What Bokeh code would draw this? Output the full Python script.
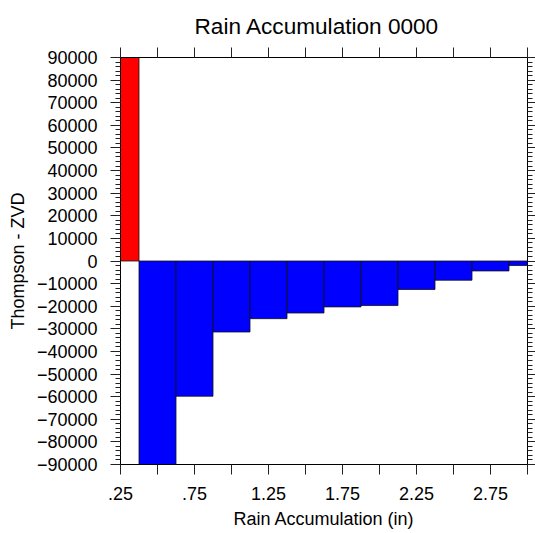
from bokeh.plotting import figure
from bokeh.models import (Range1d, LinearAxis, FixedTicker, SingleIntervalTicker,
                          BasicTickFormatter, CustomJSTickFormatter)
from bokeh.embed import file_html
from bokeh.resources import INLINE

# Data
bin_centers = [0.25, 0.5, 0.75, 1.0, 1.25, 1.5, 1.75, 2.0, 2.25, 2.5, 2.75, 3.0]
differences = [90000, -90000, -59800, -31400, -25500, -23000, -20300, -19700, -12600, -8500, -4400, -2000]
bin_width = 0.25
x_labeled_ticks = [0.25, 0.75, 1.25, 1.75, 2.25, 2.75]
x_unlabeled_ticks = [0.5, 1.0, 1.5, 2.0, 2.5, 3.0]
x_tick_labels = [".25", ".75", "1.25", "1.75", "2.25", "2.75"]

FONT = "Liberation Sans"

colors = ["#FF0000" if v > 0 else "#0000FF" for v in differences]

p = figure(width=535, height=533,
           x_range=Range1d(0.25, 3.0), y_range=Range1d(-90000, 90000),
           output_backend="svg", toolbar_location=None,
           min_border_left=120, min_border_right=8,
           min_border_top=57, min_border_bottom=69)

p.vbar(x=bin_centers, top=differences, bottom=0, width=bin_width,
       fill_color=colors, line_color="#111111", line_width=0.8)

p.grid.visible = False
p.outline_line_color = "black"
p.outline_line_width = 1

p.title.text = "Rain Accumulation 0000"
p.title.align = "left"
p.title.offset = 74
p.title.text_font = FONT
p.title.text_font_size = "22.6px"
p.title.text_font_style = "normal"
p.title.text_color = "black"
p.title.standoff = 18

xticker = FixedTicker(ticks=x_labeled_ticks, minor_ticks=x_unlabeled_ticks)
yticker = SingleIntervalTicker(interval=10000, num_minor_ticks=5)
blank = CustomJSTickFormatter(code="return ''")

xa = p.xaxis[0]
xa.ticker = xticker
xa.major_label_overrides = {t: l for t, l in zip(x_labeled_ticks, x_tick_labels)}
ya = p.yaxis[0]
ya.ticker = yticker
ya.formatter = BasicTickFormatter(use_scientific=False)

above = LinearAxis(ticker=xticker, formatter=blank)
right = LinearAxis(ticker=yticker, formatter=blank)
p.add_layout(above, "above")
p.add_layout(right, "right")

for ax in (xa, ya, above, right):
    ax.axis_line_color = "black"
    ax.major_tick_line_color = "#222222"
    ax.minor_tick_line_color = "#222222"
    ax.major_tick_in = 0
    ax.major_tick_out = 10
    ax.minor_tick_in = 0
    ax.minor_tick_out = 5
    ax.major_label_text_font = FONT
    ax.major_label_text_font_size = "18px"
    ax.major_label_text_color = "black"
    ax.axis_label_text_font = FONT
    ax.axis_label_text_font_size = "18px"
    ax.axis_label_text_font_style = "normal"
    ax.axis_label_text_color = "black"

xa.minor_tick_out = 10
above.minor_tick_out = 10
xa.major_label_standoff = 12
ya.major_label_standoff = 13
xa.axis_label = "Rain Accumulation (in)"
ya.axis_label = "Thompson - ZVD"
xa.axis_label_standoff = 6
ya.axis_label_standoff = 6

for ax in (above, right):
    ax.major_label_standoff = 0
right.major_tick_out = 8

open("out.html", "w").write(file_html(p, INLINE))
